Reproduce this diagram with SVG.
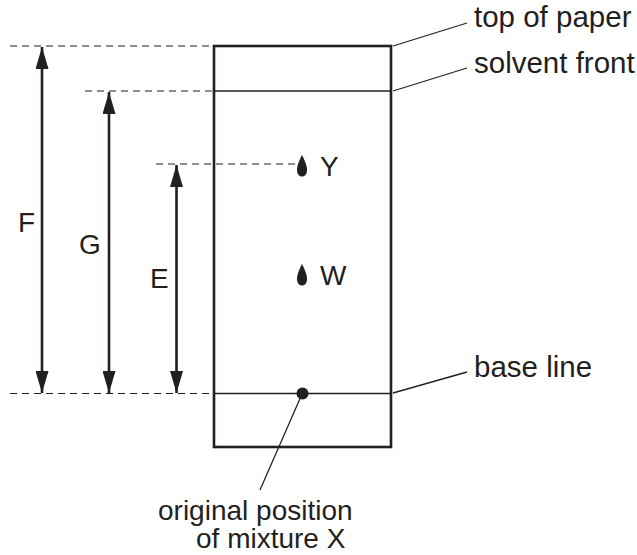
<svg xmlns="http://www.w3.org/2000/svg" width="637" height="555" viewBox="0 0 637 555">
<style>
.dash{stroke:#231f20;stroke-width:1.2;stroke-dasharray:7,5;fill:none}
.thin{stroke:#231f20;stroke-width:1.3;fill:none}
.thick{stroke:#231f20;stroke-width:2.6;fill:none}
.lbl{font-family:"Liberation Sans",Arial,sans-serif;font-size:28px;fill:#231f20}
.big{font-size:29.5px}
</style>
<defs>
<marker id="head" viewBox="0 0 22 13" refX="22" refY="6.5" markerWidth="22" markerHeight="13" markerUnits="userSpaceOnUse" orient="auto">
<path d="M0,0 L22,6.5 L0,13 Z" fill="#231f20"/>
</marker>
<path id="spot" d="M0,0 C-2,4 -5,10 -5,15 C-5,19 -3,21.5 0,21.5 C3,21.5 5,19 5,15 C5,10 2,4 0,0 Z" fill="#231f20"/>
</defs>
<g id="paper">
<rect x="214" y="46" width="177" height="401" class="thick"/>
<line x1="214" y1="91" x2="391" y2="91" class="thin"/>
<line x1="214" y1="393.5" x2="391" y2="393.5" class="thin"/>
</g>
<g id="connectors">
<line x1="10" y1="46" x2="213" y2="46" class="dash"/>
<line x1="85" y1="91" x2="213" y2="91" class="dash"/>
<line x1="156" y1="164" x2="297" y2="164" class="dash"/>
<line x1="10" y1="393.5" x2="213" y2="393.5" class="dash"/>
<line x1="42" y1="220" x2="42" y2="47" class="thick" marker-end="url(#head)"/>
<line x1="42" y1="220" x2="42" y2="393" class="thick" marker-end="url(#head)"/>
<line x1="109" y1="240" x2="109" y2="92" class="thick" marker-end="url(#head)"/>
<line x1="109" y1="240" x2="109" y2="393" class="thick" marker-end="url(#head)"/>
<line x1="176.5" y1="280" x2="176.5" y2="165" class="thick" marker-end="url(#head)"/>
<line x1="176.5" y1="280" x2="176.5" y2="393" class="thick" marker-end="url(#head)"/>
<line x1="393" y1="46" x2="467" y2="23" class="thin"/>
<line x1="393" y1="91" x2="467" y2="68" class="thin"/>
<line x1="393" y1="393" x2="467" y2="372" class="thin"/>
<line x1="302" y1="394" x2="260" y2="490" class="thin"/>
</g>
<g id="spotY"><use href="#spot" x="302" y="155"/><text x="320" y="176" class="lbl">Y</text></g>
<g id="spotW"><use href="#spot" x="302" y="264"/><text x="320" y="285" class="lbl">W</text></g>
<g id="spotX"><circle cx="302.5" cy="393.5" r="6" fill="#231f20"/></g>
<g id="labels">
<text x="18" y="232" class="lbl">F</text>
<text x="79" y="254" class="lbl">G</text>
<text x="150" y="288" class="lbl">E</text>
<text x="474" y="27" class="lbl big">top of paper</text>
<text x="474" y="73" class="lbl big">solvent front</text>
<text x="474" y="377" class="lbl big">base line</text>
<text x="158" y="520" class="lbl">original position</text>
<text x="196" y="548" class="lbl">of mixture X</text>
</g>
</svg>
